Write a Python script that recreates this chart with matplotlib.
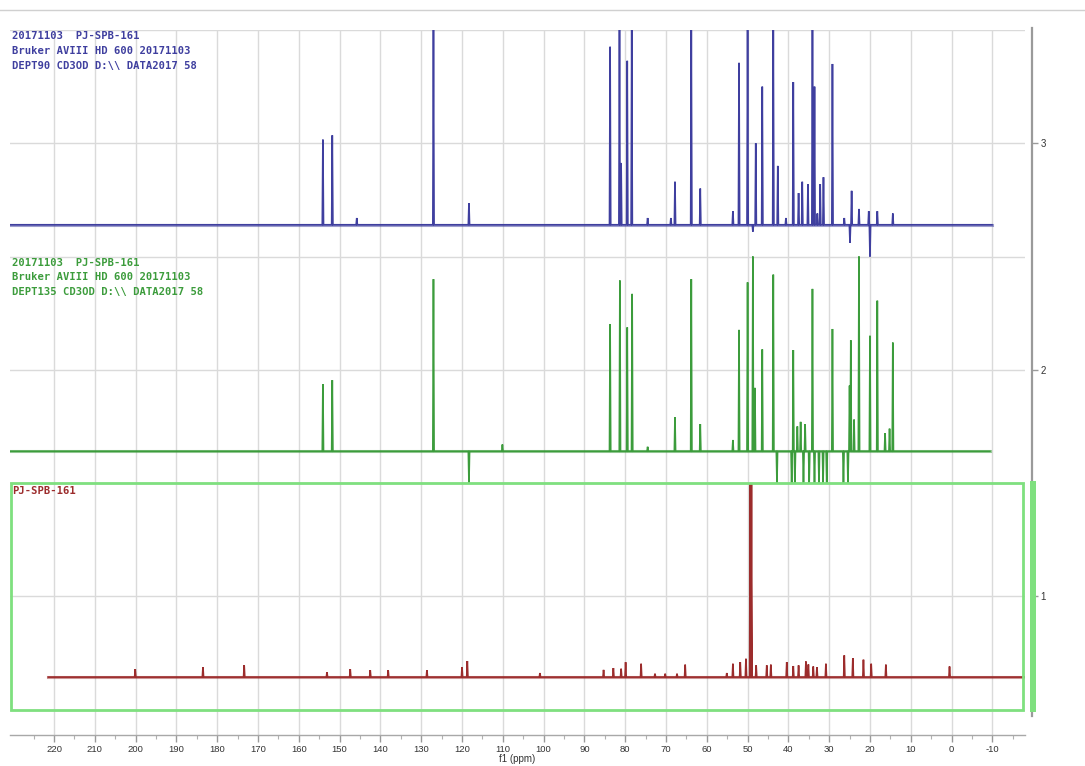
import matplotlib
matplotlib.use("Agg")
import matplotlib.pyplot as plt
from matplotlib.patches import Rectangle
from matplotlib.lines import Line2D
import numpy as np

# ------------------------------------------------------------------ data
x_tick_values = [220, 210, 200, 190, 180, 170, 160, 150, 140, 130, 120, 110,
                 100, 90, 80, 70, 60, 50, 40, 30, 20, 10, 0, -10]
x_tick_labels = ["220", "210", "200", "190", "180", "170", "160", "150", "140",
                 "130", "120", "110", "100", "90", "80", "70", "60", "50", "40",
                 "30", "20", "10", "0", "-10"]
y_tick_values = [1, 2, 3]
y_tick_labels = ["1", "2", "3"]
x_label = "f1 (ppm)"

dept90_text = ["20171103  PJ-SPB-161",
               "Bruker AVIII HD 600 20171103",
               "DEPT90 CD3OD D:\\\\ DATA2017 58"]
dept135_text = ["20171103  PJ-SPB-161",
                "Bruker AVIII HD 600 20171103",
                "DEPT135 CD3OD D:\\\\ DATA2017 58"]
c13_text = ["PJ-SPB-161"]

# DEPT90 (blue) - baseline, span and peak tops (axis units)
dept90_base = 2.64
dept90_span = (230.8, -9.9)
dept90_ppm = [154.1, 151.8, 145.8, 127.0, 118.3,
              83.7, 81.4, 81.0, 79.5, 78.4, 74.5, 68.8, 67.8, 63.8, 61.6,
              53.6, 52.1, 50.0, 48.7, 48.0, 46.4, 43.7, 42.6, 40.6, 38.8,
              37.5, 36.6, 35.2, 34.1, 33.6, 32.9, 32.2, 31.4, 29.2, 26.3,
              24.9, 24.5, 22.7, 20.3, 20.0, 18.2, 14.4]
dept90_top = [3.016, 3.035, 2.67, 3.5, 2.736,
              3.426, 3.5, 2.913, 3.364, 3.5, 2.67, 2.67, 2.83, 3.5, 2.80,
              2.70, 3.355, 3.5, 2.61, 3.0, 3.25, 3.5, 2.90, 2.67, 3.27,
              2.78, 2.83, 2.82, 3.5, 3.25, 2.69, 2.82, 2.85, 3.35, 2.67,
              2.56, 2.79, 2.71, 2.70, 2.50, 2.70, 2.69]

# DEPT135 (green)
dept135_base = 1.64
dept135_span = (230.8, -9.4)
dept135_ppm = [154.1, 151.8, 127.0, 118.3, 110.1,
               83.7, 81.3, 79.5, 78.3, 74.5, 67.8, 63.8, 61.6, 53.6, 52.1,
               50.0, 48.7, 48.2, 46.4, 43.7, 42.8, 39.2, 38.8, 38.4, 37.8,
               37.0, 36.3, 35.9, 34.9, 34.1, 33.6, 32.5, 31.5, 30.6, 29.2,
               26.5, 25.4, 25.0, 24.7, 23.9, 22.7, 20.0, 18.2, 16.3, 15.2, 14.4]
dept135_top = [1.937, 1.954, 2.40, 1.50, 1.67,
               2.202, 2.394, 2.187, 2.335, 1.66, 1.79, 2.40, 1.76, 1.69, 2.176,
               2.386, 2.50, 1.92, 2.09, 2.42, 1.50, 1.50, 2.087, 1.50, 1.75,
               1.77, 1.50, 1.76, 1.50, 2.357, 1.50, 1.50, 1.50, 1.50, 2.18,
               1.50, 1.50, 1.93, 2.13, 1.78, 2.50, 2.15, 2.305, 1.72, 1.74, 2.12]

# 13C (red)
c13_base = 0.643
c13_span = (221.4, -18.0)
c13_ppm = [200.1, 183.5, 173.4, 153.1, 147.4, 142.5, 138.1, 128.6, 120.0, 118.7,
           100.9, 85.3, 82.9, 81.0, 79.9, 76.1, 72.7, 70.2, 67.3, 65.3, 55.1,
           53.6, 51.8, 50.4, 49.35, 49.2, 49.05, 47.9, 45.3, 44.3, 40.4, 38.8,
           37.5, 35.7, 35.1, 33.9, 33.0, 30.8, 26.3, 24.2, 21.6, 19.7, 16.1, 0.5]
c13_top = [0.678, 0.687, 0.696, 0.665, 0.678, 0.674, 0.674, 0.674, 0.687, 0.714,
           0.661, 0.675, 0.683, 0.680, 0.709, 0.702, 0.658, 0.658, 0.658, 0.698,
           0.661, 0.702, 0.709, 0.724, 1.5, 1.5, 1.5, 0.695, 0.695, 0.698,
           0.709, 0.692, 0.695, 0.712, 0.699, 0.690, 0.687, 0.702, 0.739, 0.727,
           0.720, 0.702, 0.698, 0.690]

# ------------------------------------------------------------------ style
BLUE = "#3f3f9f"
GREEN = "#3c9c3c"
RED = "#9c2c2c"
BOX = "#7fe07f"
GRID = "#dadada"

W, H = 1085, 766
fig = plt.figure(figsize=(W / 100, H / 100), dpi=100)
ax_l, ax_r, ax_t, ax_b = 10, 1025, 30, 735
ax = fig.add_axes([ax_l / W, 1 - ax_b / H, (ax_r - ax_l) / W, (ax_b - ax_t) / H])
ax.set_xlim(230.8, -18.0)
ax.set_ylim(3.5 - (ax_b - ax_t) / 226.5, 3.5)
ax.set_facecolor("white")


def spectrum_xy(ppm, top, base, span, hw=0.15):
    order = np.argsort(ppm)[::-1]
    xs, ys = [span[0]], [base]
    for i in order:
        p, t = ppm[i], top[i]
        xs += [p + hw, p, p - hw]
        ys += [base, t, base]
    xs.append(span[1])
    ys.append(base)
    return xs, ys


for ppm, top, base, span, col in [
        (dept90_ppm, dept90_top, dept90_base, dept90_span, BLUE),
        (dept135_ppm, dept135_top, dept135_base, dept135_span, GREEN),
        (c13_ppm, c13_top, c13_base, c13_span, RED)]:
    xs, ys = spectrum_xy(ppm, top, base, span)
    ax.plot(span, [base, base], color=col, lw=2.2, alpha=0.5, zorder=3)
    ax.plot(xs, ys, color=col, lw=1.2, zorder=4, solid_joinstyle="miter")

# grids
ax.set_xticks(x_tick_values)
ax.set_xticklabels(x_tick_labels)
ax.set_xticks(np.arange(-15, 230, 5), minor=True)
ax.set_yticks(y_tick_values)
ax.set_yticklabels(y_tick_labels)
ax.set_yticks([0.5, 1.5, 2.5, 3.5], minor=True)
ax.grid(True, axis="x", which="major", color=GRID, lw=1.0)
ax.grid(True, axis="y", which="both", color=GRID, lw=1.0)
ax.set_axisbelow(True)

# spines / ticks
for s in ["left", "top"]:
    ax.spines[s].set_visible(False)
ax.spines["bottom"].set_color("#a8a8a8")
ax.spines["bottom"].set_linewidth(1.0)
ax.spines["right"].set_position(("outward", 5))
ax.spines["right"].set_bounds(0.47, 3.51)
ax.spines["right"].set_color("#9a9a9a")
ax.spines["right"].set_linewidth(1.6)
ax.yaxis.tick_right()
ax.tick_params(axis="y", which="major", direction="out", length=4, width=1,
               color="#9a9a9a", labelsize=7, labelcolor="#333333", pad=2)
ax.tick_params(axis="y", which="minor", length=0)
ax.tick_params(axis="x", which="major", direction="out", length=5, width=1,
               color="#9a9a9a", labelsize=6.8, labelcolor="#333333", pad=2)
ax.tick_params(axis="x", which="minor", direction="out", length=3, width=0.8,
               color="#b0b0b0")
for lab in ax.get_xticklabels() + ax.get_yticklabels():
    lab.set_fontfamily("Liberation Sans")
ax.set_xlabel(x_label, fontsize=7, color="#333333", labelpad=0,
              fontfamily="Liberation Sans")

# selected-spectrum box and side bar
ax.add_patch(Rectangle((-17.5, 0.5), 230.6 + 17.5, 1.0, fill=False,
                       edgecolor=BOX, lw=2.0, clip_on=False, zorder=5))
ax.add_patch(Rectangle((-19.2, 0.49), -1.5, 1.02, facecolor=BOX, edgecolor="none",
                       clip_on=False, zorder=6))

# texts
px = 1 / 226.5
for i, t in enumerate(dept90_text):
    ax.text(230.3, 3.5 - (6 + 15 * i) * px, t, color=BLUE, fontsize=7.6,
            family="DejaVu Sans Mono", weight="bold", va="center", ha="left", zorder=7)
for i, t in enumerate(dept135_text):
    ax.text(230.3, 2.5 - (6 + 15 * i) * px, t, color=GREEN, fontsize=7.6,
            family="DejaVu Sans Mono", weight="bold", va="center", ha="left", zorder=7)
for i, t in enumerate(c13_text):
    ax.text(230.3, 1.5 - (8 + 15 * i) * px, t, color=RED, fontsize=7.6,
            family="DejaVu Sans Mono", weight="bold", va="center", ha="left", zorder=7)

# thin frame line at top of window
fig.add_artist(Line2D([0, 1], [1 - 10 / H, 1 - 10 / H], color="#d0d0d0", lw=1.0,
                      transform=fig.transFigure))

fig.savefig("out.png", dpi=100, facecolor="white")
